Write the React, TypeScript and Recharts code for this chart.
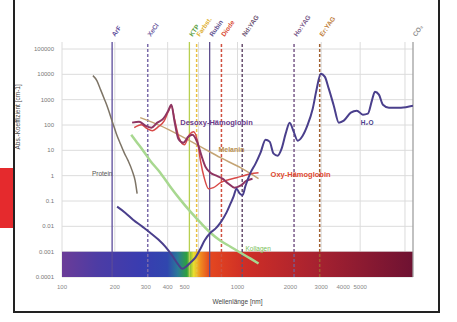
import React from "react"
import {
  ComposedChart,
  Line,
  XAxis,
  YAxis,
  CartesianGrid,
  ReferenceLine,
  ReferenceArea,
  ReferenceDot,
} from "recharts"

// [wavelength nm, absorption coefficient cm-1]
const water: [number, number][] = [
  [206, 0.0597], [229, 0.0346], [254, 0.0183], [287, 0.0097], [318, 0.0056], [354, 0.003],
  [388, 0.00157], [425, 0.00069], [460, 0.00031], [485, 0.00021], [511, 0.00026], [539, 0.00037],
  [575, 0.00058], [615, 0.00131], [648, 0.0027], [701, 0.0056], [749, 0.0081], [800, 0.014],
  [865, 0.0346], [912, 0.0785], [949, 0.148], [987, 0.307], [1027, 0.2], [1068, 0.17],
  [1111, 0.4], [1187, 1.31], [1267, 2.98], [1353, 8.09], [1445, 26.4], [1524, 22], [1606, 7.39],
  [1693, 6.16], [1784, 11.6], [1881, 45.5], [1983, 124], [2089, 54.6], [2203, 24.1], [2352, 37.9],
  [2512, 103], [2683, 442], [2828, 2720], [2981, 10640], [3142, 8090], [3311, 2720], [3537, 580],
  [3777, 124], [4034, 148], [4423, 307], [4786, 368], [5180, 256], [5534, 280], [5832, 914],
  [6067, 2070], [6394, 1578], [6740, 635], [7295, 484], [8540, 484], [10000, 580],
]

const protein: [number, number][] = [
  [150, 8870], [158, 5625], [165, 2720], [174, 1096], [183, 442], [191, 178], [196, 103],
  [204, 45.5], [215, 18.3], [226, 8.09], [238, 3.91], [251, 1.58], [261, 0.635], [268, 0.195],
]

const deoxyHb: [number, number][] = [
  [251, 124], [275, 135], [298, 94], [323, 78.5], [349, 124], [378, 178], [403, 368], [420, 635],
  [437, 148], [460, 28.9], [491, 20.1], [525, 34.7], [553, 41.6], [591, 20.1], [623, 6.16],
  [656, 2.27], [701, 1.31], [759, 1], [821, 0.762], [888, 0.483], [961, 0.336], [1040, 0.403],
  [1126, 0.635], [1218, 0.762],
]

const oxyHb: [number, number][] = [
  [258, 78.5], [283, 103], [306, 71.7], [327, 59.8], [354, 86], [383, 148], [403, 336], [420, 580],
  [437, 178], [466, 28.9], [498, 16.7], [532, 41.6], [561, 54.6], [591, 24.1], [615, 3.91],
  [648, 0.762], [683, 0.307], [729, 0.336], [800, 0.529], [888, 0.695], [987, 0.834], [1082, 1],
  [1187, 1.2], [1318, 1.31],
]

const melanin: [number, number][] = [
  [279, 195], [363, 94], [472, 37.9], [615, 14], [800, 5.14], [1040, 2.07], [1318, 0.762],
]

const collagen: [number, number][] = [
  [248, 41.6], [268, 20.1], [290, 9.7], [318, 3.91], [363, 1.31], [414, 0.368], [472, 0.113],
  [539, 0.0379], [615, 0.014], [701, 0.0056], [800, 0.0027], [912, 0.00157], [1040, 0.00091],
  [1187, 0.00053], [1318, 0.00034],
]

const laserNames = ["ArF", "XeCl", "KTP", "Farbst.", "Rubin", "Diode", "Nd:YAG", "Ho:YAG", "Er:YAG", "CO₂"]
const laserNm = [193, 308, 532, 585, 694, 810, 1064, 2100, 2940, 10000]
const laserColors = ["#5a4a9a", "#7a6aaa", "#b8d050", "#e8c040", "#5e4e8e", "#d05040", "#6a5070", "#7a5a8a", "#a06030", "#a0a0a0"]
const laserLabelColors = ["#5a4a9a", "#6a5aa0", "#5aa040", "#e0b030", "#5e4e8e", "#d84a30", "#6a5070", "#7a5a8a", "#c08040", "#909090"]
const laserDashed = [false, true, false, true, false, true, true, true, true, false]

const xTicks = [100, 200, 300, 400, 500, 1000, 2000, 3000, 4000, 5000]
const yTicks = [0.0001, 0.001, 0.01, 0.1, 1, 10, 100, 1000, 10000, 100000]

const toXY = (pts: [number, number][]) => pts.map(([x, y]) => ({ x, y }))

const minorY: number[] = []
for (let e = -4; e < 5; e++) for (let m = 1; m < 10; m++) minorY.push(m * Math.pow(10, e))
minorY.push(100000)
const minorX: number[] = []
for (let e = 2; e < 4; e++) for (let m = 1; m < 10; m++) minorX.push(m * Math.pow(10, e))

const LaserLabel = (props: any) => {
  const { viewBox, value, fill } = props
  const x = viewBox.x + 3
  const y = viewBox.y - 5
  return (
    <text x={x} y={y} transform={`rotate(-55 ${x} ${y})`} fill={fill} fontSize={6.5} fontWeight="bold">
      {value}
    </text>
  )
}

const App = () => {
  return (
    <div style={{ position: "fixed", left: 0, top: 0, width: 457, height: 322, background: "#fff", fontFamily: "'Liberation Sans', Arial, sans-serif" }}>
      <div style={{ position: "absolute", left: 13, top: -10, width: 427, height: 323, border: "2px solid #222", boxSizing: "border-box" }} />
      <div style={{ position: "absolute", left: 0, top: 168, width: 13, height: 60, background: "#e52a2d" }} />
      <div style={{ position: "absolute", left: 0, top: 0 }}>
        <ComposedChart width={457} height={322} margin={{ top: 42, right: 44, left: 0, bottom: 0 }}>
          <defs>
            <linearGradient id="spectrum" x1="0" y1="0" x2="1" y2="0">
              <stop offset="0%" stopColor="#6b3c98" />
              <stop offset="10%" stopColor="#4d3ca4" />
              <stop offset="22%" stopColor="#3a3cb0" />
              <stop offset="30%" stopColor="#3046ae" />
              <stop offset="33%" stopColor="#2a7a98" />
              <stop offset="35.5%" stopColor="#2ea040" />
              <stop offset="37.5%" stopColor="#e8e030" />
              <stop offset="39.5%" stopColor="#f08a20" />
              <stop offset="42%" stopColor="#e44820" />
              <stop offset="52%" stopColor="#cf2e26" />
              <stop offset="72%" stopColor="#a82230" />
              <stop offset="100%" stopColor="#6e1232" />
            </linearGradient>
          </defs>
          <CartesianGrid horizontalValues={minorY} verticalValues={minorX} stroke="#dcdcdc" />
          <XAxis
            type="number"
            dataKey="x"
            scale="log"
            domain={[100, 10000]}
            allowDataOverflow
            ticks={xTicks}
            axisLine={false}
            tickLine={false}
            tick={{ fontSize: 6, fill: "#888" }}
            tickMargin={2}
            height={45}
            label={{ value: "Wellenlänge [nm]", position: "insideBottom", offset: 18, fontSize: 6.5, fill: "#444" }}
          />
          <YAxis
            type="number"
            dataKey="y"
            scale="log"
            domain={[0.0001, 189000]}
            allowDataOverflow
            ticks={yTicks}
            tickFormatter={(v: number) => String(v)}
            axisLine={false}
            tickLine={false}
            tick={{ fontSize: 6, fill: "#777" }}
            width={62}
            label={{ value: "Abs.-Koeffizient [cm-1]", angle: -90, position: "insideLeft", offset: 18, fontSize: 6.5, fill: "#444", dy: -10 }}
          />
          <ReferenceArea x1={100} x2={10000} y1={0.0001} y2={0.001} fill="url(#spectrum)" fillOpacity={1} stroke="none" ifOverflow="visible" />
          {laserNm.map((nm, i) => (
            <ReferenceLine
              key={laserNames[i]}
              x={nm}
              stroke={laserColors[i]}
              strokeWidth={laserDashed[i] ? 1.5 : 1.3}
              strokeDasharray={laserDashed[i] ? "3 2" : undefined}
              label={<LaserLabel value={laserNames[i]} fill={laserLabelColors[i]} />}
            />
          ))}
          <Line data={toXY(collagen)} dataKey="y" stroke="#a8d890" strokeWidth={2.5} dot={false} type="monotone" isAnimationActive={false} />
          <Line data={toXY(protein)} dataKey="y" stroke="#7d7466" strokeWidth={1.5} dot={false} type="monotone" isAnimationActive={false} />
          <Line data={toXY(melanin)} dataKey="y" stroke="#c4a474" strokeWidth={1.5} dot={false} type="monotone" isAnimationActive={false} />
          <Line data={toXY(oxyHb)} dataKey="y" stroke="#d84a48" strokeWidth={1.5} dot={false} type="monotone" isAnimationActive={false} />
          <Line data={toXY(deoxyHb)} dataKey="y" stroke="#8e3562" strokeWidth={2} dot={false} type="monotone" isAnimationActive={false} />
          <Line data={toXY(water)} dataKey="y" stroke="#4a3f8c" strokeWidth={2} dot={false} type="monotone" isAnimationActive={false} />
          <ReferenceDot x={472} y={124} r={0} label={{ value: "Desoxy-Hämoglobin", position: "right", offset: 0, fontSize: 7.5, fontWeight: "bold", fill: "#6a3a8a" }} />
          <ReferenceDot x={1544} y={1.1} r={0} label={{ value: "Oxy-Hämoglobin", position: "right", offset: 0, fontSize: 7.5, fontWeight: "bold", fill: "#e04a30" }} />
          <ReferenceDot x={779} y={10.6} r={0} label={{ value: "Melanin", position: "right", offset: 0, fontSize: 7, fontWeight: "bold", fill: "#b89050" }} />
          <ReferenceDot x={148} y={1.2} r={0} label={{ value: "Protein", position: "right", offset: 0, fontSize: 6.5, fill: "#555" }} />
          <ReferenceDot x={1111} y={0.00131} r={0} label={{ value: "Kollagen", position: "right", offset: 0, fontSize: 6.5, fill: "#78c058" }} />
          <ReferenceDot x={5046} y={124} r={0} label={{ value: "H₂O", position: "right", offset: 0, fontSize: 6.5, fontWeight: "bold", fill: "#4a3f8c" }} />
        </ComposedChart>
      </div>
    </div>
  )
}

export default App
